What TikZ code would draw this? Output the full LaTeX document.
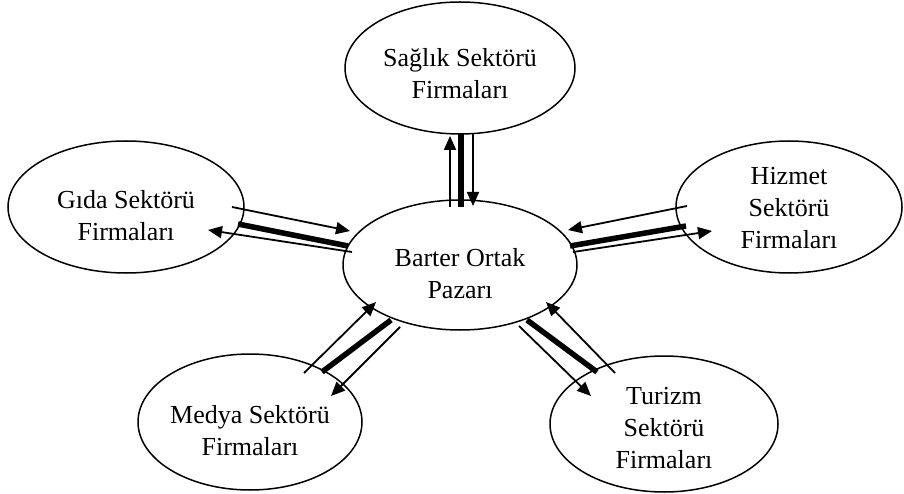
\documentclass[tikz,border=0pt]{standalone}
\usepackage{fontspec}
\setmainfont{Liberation Serif}
\usepackage{tikz}
\usetikzlibrary{arrows.meta,shapes.geometric,calc}

\begin{document}
\begin{tikzpicture}[
  x=1pt,y=-1pt,
  firm/.style={ellipse,draw,line width=1.5pt,inner sep=0pt},
  txt/.style={align=center,inner sep=0pt,font=\fontsize{26}{32}\selectfont},
  flow/.style={-{Triangle[length=14pt,width=12pt]},line width=1.8pt},
  bond/.style={line width=5.5pt}]
  \useasboundingbox (0,0) rectangle (904,494);
  % ellipses
  \node[firm,minimum width=234,minimum height=130] (barter) at (460,265) {};
  \node[firm,minimum width=230,minimum height=132] (saglik) at (460,68) {};
  \node[firm,minimum width=236,minimum height=132] (gida) at (126,207) {};
  \node[firm,minimum width=226,minimum height=132] (hizmet) at (789,207) {};
  \node[firm,minimum width=224,minimum height=136] (medya) at (250,422) {};
  \node[firm,minimum width=228,minimum height=136] (turizm) at (664,424) {};
  % texts
  \node[txt] (barterT) at (460,274) {Barter Ortak\\Pazar\i};
  \node[txt] (saglikT) at (460,74) {Sa\u{g}l\i k Sekt\"or\"u\\Firmalar\i};
  \node[txt] (gidaT) at (126,216) {G\i da Sekt\"or\"u\\Firmalar\i};
  \node[txt] (hizmetT) at (789,208) {Hizmet\\Sekt\"or\"u\\Firmalar\i};
  \node[txt] (medyaT) at (250,431) {Medya Sekt\"or\"u\\Firmalar\i};
  \node[txt] (turizmT) at (664,428) {Turizm\\Sekt\"or\"u\\Firmalar\i};
  % top
  \draw[flow] ($(barter)+(-10,-58)$) -- ($(saglik)+(-10,68)$);
  \draw[bond] ($(saglik)+(1,66)$) -- ($(barter)+(1,-58)$);
  \draw[flow] ($(saglik)+(13,66)$) -- ($(barter)+(13,-59)$);
  % left
  \draw[flow] ($(gida)+(106,0)$) -- ($(barter)+(-110,-34)$);
  \draw[bond] ($(gida)+(112,17)$) -- ($(barter)+(-112,-19)$);
  \draw[flow] ($(barter)+(-108,-13)$) -- ($(gida)+(82,23)$);
  % right
  \draw[flow] ($(hizmet)+(-102,-1)$) -- ($(barter)+(108,-35)$);
  \draw[bond] ($(hizmet)+(-103,19)$) -- ($(barter)+(110,-19)$);
  \draw[flow] ($(barter)+(113,-13)$) -- ($(hizmet)+(-77,24)$);
  % bottom left
  \draw[flow] ($(medya)+(54,-49)$) -- ($(barter)+(-84,37)$);
  \draw[bond] ($(medya)+(72,-50)$) -- ($(barter)+(-69,55)$);
  \draw[flow] ($(barter)+(-60,62)$) -- ($(medya)+(81,-26)$);
  % bottom right
  \draw[flow] ($(turizm)+(-49,-51)$) -- ($(barter)+(86,37)$);
  \draw[bond] ($(turizm)+(-67,-52)$) -- ($(barter)+(67,55)$);
  \draw[flow] ($(barter)+(59,61)$) -- ($(turizm)+(-73,-28)$);
\end{tikzpicture}
\end{document}
